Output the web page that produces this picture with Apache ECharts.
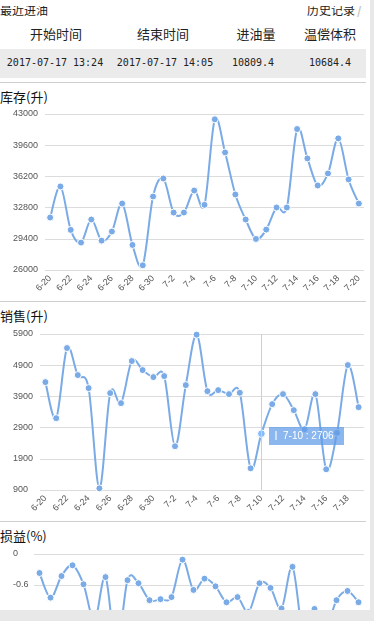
<!DOCTYPE html>
<html><head><meta charset="utf-8">
<script src="https://cdn.jsdelivr.net/npm/echarts@6/dist/echarts.min.js"></script>
<style>
html,body{margin:0;padding:0;background:#e8e8e8;width:374px;height:621px;overflow:hidden;font-family:"Noto Sans CJK SC","DejaVu Sans",sans-serif;color:#222;}
#page{position:absolute;left:0;top:0;width:370px;height:610px;background:#fff;overflow:hidden;}
.abs{position:absolute;white-space:nowrap;}
.c{transform:translateX(-50%);}
.hd{font-size:13px;line-height:14px;top:27px;color:#222;}
.cell{font-family:"DejaVu Sans Mono",monospace;font-size:10px;line-height:12px;top:57px;color:#222;}
.sep{position:absolute;left:0;width:366px;height:1px;background:#cfcfcf;}
.ttl{font-size:13px;line-height:14px;left:0;color:#111;}
.chart{position:absolute;left:0;width:370px;}
</style></head>
<body>
<div id="page">
  <div class="abs" style="left:0;top:6px;width:370px;height:12px;overflow:hidden;">
    <span class="abs" style="left:0;top:-3px;font-size:12px;line-height:14px;">最近进油</span>
    <span class="abs" style="left:307px;top:-3px;font-size:12px;line-height:14px;">历史记录</span>
    <span class="abs" style="left:357px;top:-3px;font-size:12px;line-height:14px;color:#c4c4c4;font-weight:bold;">/</span>
  </div>
  <div class="abs hd c" style="left:56px;">开始时间</div>
  <div class="abs hd c" style="left:163px;">结束时间</div>
  <div class="abs hd c" style="left:256px;">进油量</div>
  <div class="abs hd c" style="left:330px;">温偿体积</div>
  <div class="abs" style="left:0;top:49px;width:366px;height:29px;background:#ebebeb;"></div>
  <div class="abs cell c" style="left:55px;">2017-07-17 13:24</div>
  <div class="abs cell c" style="left:165px;">2017-07-17 14:05</div>
  <div class="abs cell c" style="left:253px;">10809.4</div>
  <div class="abs cell c" style="left:330px;">10684.4</div>
  <div class="sep" style="top:82px;"></div>
  <div class="abs ttl" style="top:90px;">库存(升)</div>
  <div id="c1" class="chart" style="top:100px;height:200px;"></div>
  <div class="sep" style="top:301px;"></div>
  <div class="abs ttl" style="top:309px;">销售(升)</div>
  <div id="c2" class="chart" style="top:320px;height:200px;"></div>
  <div class="sep" style="top:521px;"></div>
  <div class="abs ttl" style="top:529px;">损益(%)</div>
  <div id="c3" class="chart" style="top:540px;height:215px;"></div>
</div>
<script>
const dates1 = ['6-20','6-21','6-22','6-23','6-24','6-25','6-26','6-27','6-28','6-29','6-30','7-1','7-2','7-3','7-4','7-5','7-6','7-7','7-8','7-9','7-10','7-11','7-12','7-13','7-14','7-15','7-16','7-17','7-18','7-19','7-20'];
const inventory = [31715, 35100, 30370, 28985, 31500, 29200, 30190, 33240, 28730, 26510, 34010, 35970, 32260, 32260, 34660, 33100, 42420, 38810, 34230, 31500, 29385, 30400, 32810, 32810, 41360, 38160, 35210, 36520, 40340, 35870, 33240];
const dates2 = ['6-20','6-21','6-22','6-23','6-24','6-25','6-26','6-27','6-28','6-29','6-30','7-1','7-2','7-3','7-4','7-5','7-6','7-7','7-8','7-9','7-10','7-11','7-12','7-13','7-14','7-15','7-16','7-17','7-18','7-19'];
const sales = [4358, 3202, 5450, 4583, 4166, 954, 4005, 3684, 5033, 4744, 4519, 4551, 2303, 4262, 5879, 4069, 4101, 3973, 4016, 1596, 2706, 3652, 3973, 3459, 2849, 3973, 1564, 2731, 4904, 3555];
const dates3 = dates2;
const profitLoss = [-0.37, -0.85, -0.43, -0.22, -0.59, -1.3, -0.45, -1.9, -0.51, -0.57, -0.90, -0.88, -0.84, -0.11, -0.70, -0.48, -0.63, -0.94, -0.84, -1.13, -0.57, -0.66, -1.06, -0.25, -1.6, -1.07, -1.45, -0.90, -0.72, -0.94];
const axis1 = {min: 26000, max: 43000, interval: 3400};
const axis2 = {min: 900, max: 5900, interval: 1000};
const axis3 = {min: -3, max: 0, interval: 0.6};
const tipIndex = 20;

const LINE = '#7aabe6';
function makeOption(cats, vals, ax, left, labelMargin, height) {
  const pairs = cats.map((c, i) => [i, vals[i]]);
  return {
    animation: false,
    grid: {left: left, right: 6, top: 14, height: height},
    xAxis: {
      type: 'category', data: cats, boundaryGap: true,
      axisLine: {show: false}, axisTick: {show: false},
      axisLabel: {rotate: 45, interval: 1, fontSize: 9, color: '#555', margin: 7, fontFamily: 'Liberation Sans'},
      splitLine: {show: false}
    },
    yAxis: {
      type: 'value', min: ax.min, max: ax.max, interval: ax.interval,
      axisLine: {show: false}, axisTick: {show: false},
      axisLabel: {fontSize: 9, color: '#555', align: 'left', margin: labelMargin, fontFamily: 'Liberation Sans',
        formatter: v => String(Math.round(v * 1000) / 1000)},
      splitLine: {lineStyle: {color: '#dcdcdc', width: 1}}
    },
    series: [{
      type: 'line', data: vals, z: 3,
      symbol: 'circle', symbolSize: 7, showSymbol: true, showAllSymbol: true,
      lineStyle: {width: 0, opacity: 0},
      itemStyle: {color: LINE, borderColor: '#fff', borderWidth: 1}
    }, {
      type: 'custom', z: 2, data: pairs, encode: {x: 0, y: 1}, silent: true,
      tooltip: {show: false},
      renderItem: function (params, api) {
        const i = params.dataIndex;
        const n = vals.length;
        if (i >= n - 1) return null;
        const P = j => { j = Math.max(0, Math.min(n - 1, j)); return api.coord([j, vals[j]]); };
        const p0 = P(i - 1), p1 = P(i), p2 = P(i + 1), p3 = P(i + 2);
        return {
          type: 'bezierCurve',
          shape: {
            x1: p1[0], y1: p1[1], x2: p2[0], y2: p2[1],
            cpx1: p1[0] + (p2[0] - p0[0]) / 6, cpy1: p1[1] + (p2[1] - p0[1]) / 6,
            cpx2: p2[0] - (p3[0] - p1[0]) / 6, cpy2: p2[1] - (p3[1] - p1[1]) / 6
          },
          style: {stroke: LINE, lineWidth: 2, fill: null}
        };
      }
    }]
  };
}

const ch1 = echarts.init(document.getElementById('c1'));
ch1.setOption(makeOption(dates1, inventory, axis1, 45, 32, 156));

const ch2 = echarts.init(document.getElementById('c2'));
const opt2 = makeOption(dates2, sales, axis2, 40, 27, 156);
opt2.tooltip = {
  trigger: 'axis', triggerOn: 'none', alwaysShowContent: true, transitionDuration: 0,
  axisPointer: {type: 'line', animation: false, lineStyle: {color: '#cfcfcf', width: 1, type: 'solid'}},
  backgroundColor: 'rgba(95,155,232,0.72)', borderWidth: 0, padding: [2, 10, 2, 6],
  textStyle: {color: '#fff', fontSize: 10, fontFamily: 'Liberation Sans'},
  extraCssText: 'border-radius:0;box-shadow:none;line-height:14px;',
  position: function () {
    const p = ch2.convertToPixel({seriesIndex: 0}, [tipIndex, sales[tipIndex]]);
    return [p[0] + 8, p[1] - 7];
  },
  formatter: function (params) {
    const p = params.filter(q => q.seriesType === 'line')[0] || params[0];
    return '<span style="display:inline-block;width:2px;height:9px;background:rgba(255,255,255,0.55);margin-right:6px;vertical-align:-1px"></span>' + p.name + ' : ' + sales[p.dataIndex];
  }
};
ch2.setOption(opt2);
ch2.dispatchAction({type: 'showTip', seriesIndex: 0, dataIndex: tipIndex});

const ch3 = echarts.init(document.getElementById('c3'));
ch3.setOption(makeOption(dates3, profitLoss, axis3, 34, 21, 154));
</script>
</body></html>
